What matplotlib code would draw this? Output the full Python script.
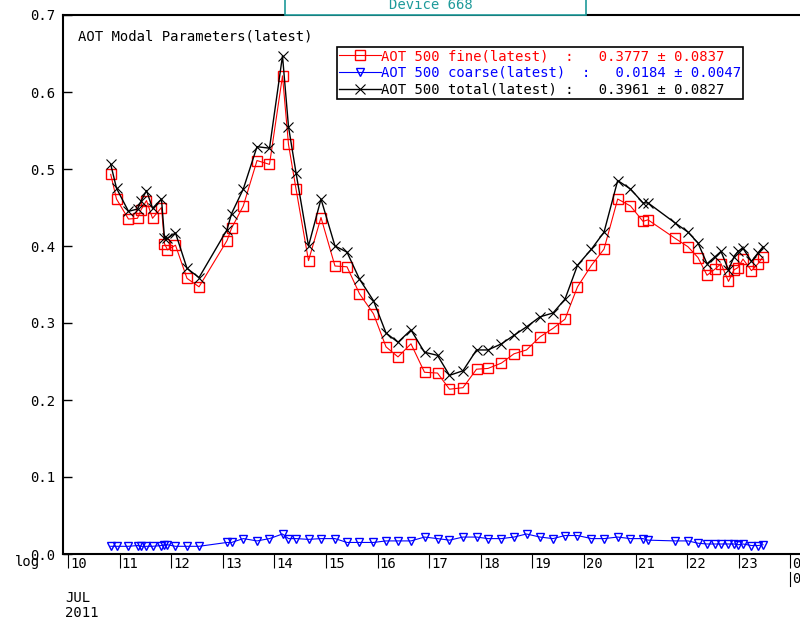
import numpy as np
import matplotlib
matplotlib.use('Agg')
import matplotlib.pyplot as plt
from matplotlib.patches import Rectangle

# July 2011, day of month (decimal)
days = [10.828, 10.940, 11.172, 11.347, 11.415, 11.521, 11.638, 11.812, 11.870, 11.928,
        12.083, 12.306, 12.539, 13.081, 13.169, 13.397, 13.663, 13.905, 14.157, 14.273,
        14.419, 14.661, 14.903, 15.174, 15.407, 15.649, 15.920, 16.163, 16.395, 16.647,
        16.909, 17.161, 17.393, 17.655, 17.917, 18.140, 18.401, 18.643, 18.886, 19.147,
        19.399, 19.632, 19.874, 20.145, 20.388, 20.653, 20.901, 21.143, 21.240, 21.764,
        22.016, 22.209, 22.384, 22.539, 22.655, 22.800, 22.907, 22.984, 23.081, 23.246,
        23.372, 23.469]

fine = [0.493, 0.461, 0.435, 0.436, 0.447, 0.459, 0.436, 0.450, 0.403, 0.395,
        0.401, 0.358, 0.347, 0.407, 0.423, 0.452, 0.511, 0.506, 0.621, 0.532,
        0.474, 0.381, 0.437, 0.374, 0.373, 0.338, 0.312, 0.269, 0.256, 0.273,
        0.236, 0.235, 0.214, 0.216, 0.240, 0.241, 0.248, 0.260, 0.265, 0.282,
        0.293, 0.305, 0.347, 0.375, 0.396, 0.461, 0.452, 0.432, 0.434, 0.410,
        0.399, 0.385, 0.362, 0.370, 0.377, 0.354, 0.369, 0.372, 0.383, 0.368,
        0.377, 0.386]

coarse = [0.010, 0.010, 0.010, 0.011, 0.010, 0.010, 0.010, 0.011, 0.012, 0.012,
          0.010, 0.010, 0.010, 0.015, 0.015, 0.020, 0.017, 0.020, 0.026, 0.020,
          0.020, 0.019, 0.020, 0.020, 0.015, 0.015, 0.015, 0.017, 0.017, 0.017,
          0.022, 0.020, 0.018, 0.022, 0.022, 0.020, 0.020, 0.022, 0.026, 0.022,
          0.020, 0.024, 0.024, 0.020, 0.020, 0.022, 0.020, 0.020, 0.018, 0.017,
          0.017, 0.014, 0.013, 0.013, 0.013, 0.013, 0.013, 0.012, 0.013, 0.011,
          0.011, 0.012]

total = [0.506, 0.475, 0.445, 0.448, 0.458, 0.472, 0.449, 0.461, 0.410, 0.410,
         0.417, 0.371, 0.359, 0.421, 0.442, 0.474, 0.529, 0.527, 0.647, 0.555,
         0.495, 0.400, 0.461, 0.400, 0.392, 0.357, 0.329, 0.287, 0.275, 0.291,
         0.262, 0.258, 0.232, 0.238, 0.265, 0.265, 0.273, 0.284, 0.295, 0.308,
         0.313, 0.331, 0.375, 0.396, 0.418, 0.485, 0.474, 0.456, 0.456, 0.430,
         0.418, 0.404, 0.377, 0.386, 0.393, 0.369, 0.386, 0.393, 0.397, 0.380,
         0.391, 0.399]

labels = ['AOT 500 fine(latest)  :   0.3777 \u00b1 0.0837',
          'AOT 500 coarse(latest)  :   0.0184 \u00b1 0.0047',
          'AOT 500 total(latest) :   0.3961 \u00b1 0.0827']

day_ticks = list(range(10, 25))
day_labels = [str(d) for d in range(10, 24)] + ['00']

teal = '#1e9a9a'

plt.rcParams['font.family'] = 'DejaVu Sans Mono'
plt.rcParams['font.size'] = 10

fig = plt.figure(figsize=(8, 6.22), dpi=100)
ax = fig.add_axes([63 / 800, 68 / 622, 737 / 800, 539 / 622])

ax.plot(days, fine, color='red', lw=0.8, marker='s', ms=6.5, mfc='none', mew=1,
        label=labels[0])
ax.plot(days, coarse, color='blue', lw=0.8, marker='v', ms=6, mfc='none', mew=1,
        label=labels[1])
ax.plot(days, total, color='black', lw=1, marker='x', ms=7, mew=0.8,
        label=labels[2])

ax.set_xlim(10 - 5 / 51.6, 10 + 732 / 51.6)
ax.set_ylim(0, 0.7)

ax.set_yticks(np.arange(0, 0.71, 0.1))
ax.set_yticklabels(['%.1f' % v for v in np.arange(0, 0.71, 0.1)])
ax.tick_params(axis='y', direction='in', length=6.5, width=1, pad=5.5)

ax.set_xticks(day_ticks)
ax.set_xticklabels([''] * len(day_ticks))
ax.tick_params(axis='x', direction='out', length=10, width=0.8)
for d, lab in zip(day_ticks, day_labels):
    txt = lab if d < 24 else '00\n00'
    ax.annotate(txt, xy=(d, 0), xycoords=('data', 'axes fraction'),
                xytext=(1.5, -2.5), textcoords='offset points',
                ha='left', va='top', linespacing=1.05)
ax.axvline(24, ymin=-0.059, ymax=-0.033, clip_on=False, color='black', lw=0.8)

ax.spines['right'].set_visible(False)
for s in ['left', 'top', 'bottom']:
    ax.spines[s].set_linewidth(1.5)

leg = ax.legend(loc='upper left', bbox_to_anchor=(337 / 800, 575 / 622),
                bbox_transform=fig.transFigure, borderaxespad=0, borderpad=0.15,
                handlelength=3.0, handletextpad=0.0, labelspacing=0.2,
                fancybox=False, edgecolor='black', framealpha=1,
                labelcolor='linecolor')
leg.get_frame().set_linewidth(1.2)

fig.text(78 / 800, 1 - 37 / 622, 'AOT Modal Parameters(latest)', va='center', ha='left')
fig.text(65 / 800, 1 - 591 / 622, 'JUL\n2011', va='top', ha='left', linespacing=1.05)
fig.text(15 / 800, 1 - 562 / 622, 'log', va='center', ha='left')

box = Rectangle((285 / 800, 1 - 15 / 622), 301 / 800, 0.05, transform=fig.transFigure,
                facecolor='white', edgecolor=teal, lw=1.2, clip_on=False, zorder=5)
fig.add_artist(box)
fig.text(431 / 800, 1 - 5 / 622, 'Device 668', color=teal, va='center', ha='center',
         zorder=6)

fig.savefig('out.png', dpi=100)
